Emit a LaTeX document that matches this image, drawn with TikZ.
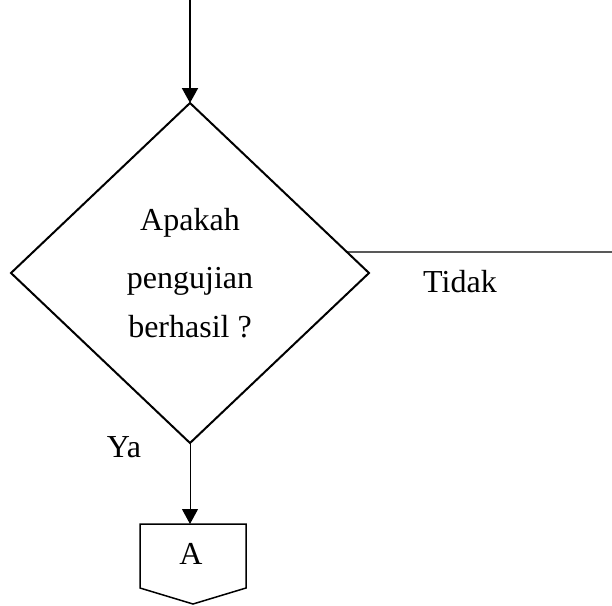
\documentclass[tikz,border=0pt]{standalone}
\usepackage{fontspec}
\setmainfont{Liberation Serif}
\usetikzlibrary{shapes.geometric,arrows.meta,calc}
\begin{document}
\begin{tikzpicture}[x=1pt,y=-1pt,
  lbl/.style={font=\fontsize{32}{38}\selectfont, inner sep=0pt, anchor=base},
  decision/.style={diamond, draw, line width=2pt, minimum width=358pt, minimum height=340pt, inner sep=0pt, outer sep=0pt},
  flow/.style={-{Triangle[width=16pt,length=15pt]}}
]
\useasboundingbox (0,0) rectangle (612,605);

% decision box
\node[decision] (dec) at (190,273) {};
\node[lbl] (q1) at (190,230) {Apakah};
\node[lbl] (q2) at (190,288) {pengujian};
\node[lbl] (q3) at (190,337) {berhasil ?};

% incoming flow
\coordinate (in) at (190,0);
\draw[flow, line width=2pt] (in) -- (dec.north);

% "Tidak" branch leaving to the right
\coordinate (noStart) at ($(dec.north)!0.876!(dec.east)$);
\coordinate (noEnd) at (612,252);
\draw[line width=1.3pt] (noStart) -- (noEnd);
\node[lbl] (tidak) at (460,292) {Tidak};

% "Ya" branch down to the off-page connector
\node[lbl] (ya) at (124,457) {Ya};
\node[minimum width=106pt, minimum height=64pt, inner sep=0pt, outer sep=0pt] (conn) at (193,556) {};
\draw[line width=1.5pt, line join=miter]
  (conn.north west) -- (conn.north east) -- (conn.south east)
  -- ($(conn.south)+(0,16)$) -- (conn.south west) -- cycle;
\node[lbl] (connA) at (191,564) {A};
\draw[flow, line width=1pt] (dec.south) -- (dec.south |- conn.north);
\end{tikzpicture}
\end{document}
